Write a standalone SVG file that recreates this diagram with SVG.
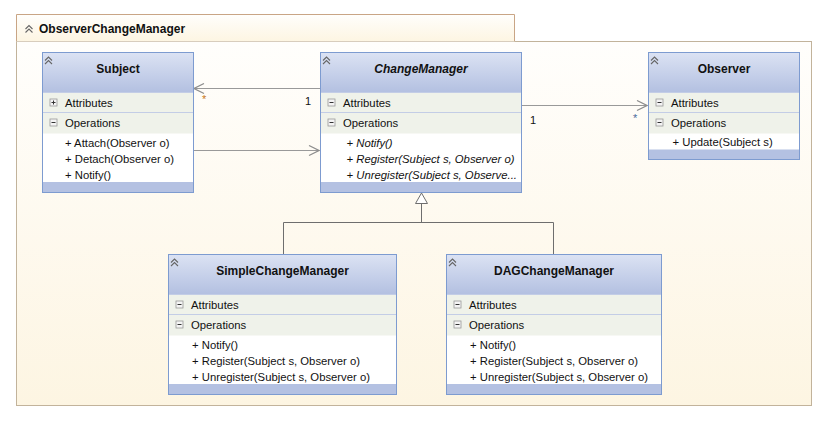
<svg xmlns="http://www.w3.org/2000/svg" width="834" height="430" viewBox="0 0 834 430">
<defs>
<linearGradient id="pkgBg" x1="0" y1="0" x2="0" y2="1">
<stop offset="0" stop-color="#fffefc"/>
<stop offset="1" stop-color="#fdf5e2"/>
</linearGradient>
<linearGradient id="hdr" x1="0" y1="0" x2="0" y2="1">
<stop offset="0" stop-color="#dbe2f3"/>
<stop offset="1" stop-color="#b3c0e1"/>
</linearGradient>
<marker id="open" viewBox="0 0 12 12" refX="11" refY="6" markerWidth="12" markerHeight="12" markerUnits="userSpaceOnUse" orient="auto">
<path d="M1,1 L11,6 L1,11" fill="none" stroke="#8c8c8c" stroke-width="1.2"/>
</marker>
<g id="chev">
<path d="M-3.5,2 L0,-1.5 L3.5,2 M-3.5,5.5 L0,2 L3.5,5.5" fill="none" stroke="#666" stroke-width="1.1"/>
</g>
<g id="minus">
<rect x="-3.5" y="-3.5" width="7" height="7" fill="#f4f4f4" stroke="#9a9a9a" stroke-width="0.8"/>
<path d="M-2,0 H2" stroke="#333" stroke-width="1"/>
</g>
<g id="plus">
<rect x="-3.5" y="-3.5" width="7" height="7" fill="#f4f4f4" stroke="#9a9a9a" stroke-width="0.8"/>
<path d="M-2,0 H2 M0,-2 V2" stroke="#333" stroke-width="1"/>
</g>
</defs>
<style>
text{font-family:"Liberation Sans",Arial,sans-serif;fill:#111111}
.name{font-size:12px;font-weight:bold;text-anchor:middle}
.it{font-style:italic}
.t{font-size:11.3px}
.box{fill:#ffffff;stroke:#7d9bd0;stroke-width:1}
.row{fill:#eff2ea}
.sep{stroke:#c3cde6;stroke-width:1}
.band{fill:#b4c1e2}
.conn{fill:none;stroke:#999999;stroke-width:1.2}
.gen{fill:none;stroke:#6e6e6e;stroke-width:1}
.mult{font-size:11px}
</style>

<g id="package">
<path d="M16.5,41.5 V14.5 H514.5 V41.5" fill="url(#pkgBg)" stroke="#c9a585" stroke-width="1"/>
<rect x="16.5" y="41.5" width="795" height="364" fill="url(#pkgBg)" stroke="#c2b39b" stroke-width="1"/>
<line x1="16.5" y1="41.5" x2="514.5" y2="41.5" stroke="#d8cdbd" stroke-width="1"/>
<use href="#chev" x="29" y="27"/>
<text x="39" y="33" style="font-size:12px;font-weight:bold">ObserverChangeManager</text>
</g>

<g id="connectors">
<line class="conn" x1="320" y1="88.5" x2="194" y2="88.5" marker-end="url(#open)"/>
<line class="conn" x1="194" y1="150.5" x2="319" y2="150.5" marker-end="url(#open)"/>
<line class="conn" x1="522" y1="105.5" x2="647" y2="105.5" marker-end="url(#open)"/>
<path class="gen" d="M421.5,203 V222.5 M283.5,254 V222.5 H553.5 V254"/>
<path d="M421.5,193 L415.5,203.5 L427.5,203.5 Z" fill="#ffffff" stroke="#6e6e6e" stroke-width="1"/>
<text class="mult" x="202" y="103" style="fill:#c87820">*</text>
<text class="mult" x="305" y="105">1</text>
<text class="mult" x="530" y="124">1</text>
<text class="mult" x="633" y="122" style="fill:#4a6a9a">*</text>
</g>

<g id="Subject" transform="translate(42.5,52.5)">
<rect class="box" x="0" y="0" width="151" height="140"/>
<rect x="0.5" y="0.5" width="150" height="39.5" fill="url(#hdr)"/>
<rect class="row" x="0.5" y="40" width="150" height="41"/>
<line class="sep" x1="0.5" y1="40" x2="150.5" y2="40"/>
<line class="sep" x1="0.5" y1="60" x2="150.5" y2="60"/>
<rect class="band" x="0.5" y="129.5" width="150" height="10"/>
<rect x="0" y="0" width="151" height="140" fill="none" stroke="#7d9bd0"/>
<use href="#chev" x="6" y="6"/>
<text class="name" x="75.5" y="20">Subject</text>
<use href="#plus" x="11" y="50"/>
<text class="t" x="22.5" y="54">Attributes</text>
<use href="#minus" x="11" y="70"/>
<text class="t" x="22.5" y="74">Operations</text>
<text class="t" x="22.5" y="94">+ Attach(Observer o)</text>
<text class="t" x="22.5" y="110">+ Detach(Observer o)</text>
<text class="t" x="22.5" y="126">+ Notify()</text>
</g>

<g id="ChangeManager" transform="translate(320.5,52.5)">
<rect class="box" x="0" y="0" width="201" height="140"/>
<rect x="0.5" y="0.5" width="200" height="39.5" fill="url(#hdr)"/>
<rect class="row" x="0.5" y="40" width="200" height="41"/>
<line class="sep" x1="0.5" y1="40" x2="200.5" y2="40"/>
<line class="sep" x1="0.5" y1="60" x2="200.5" y2="60"/>
<rect class="band" x="0.5" y="129.5" width="200" height="10"/>
<rect x="0" y="0" width="201" height="140" fill="none" stroke="#7d9bd0"/>
<use href="#chev" x="6" y="6"/>
<text class="name it" x="100.5" y="20">ChangeManager</text>
<use href="#minus" x="11" y="50"/>
<text class="t" x="22.5" y="54">Attributes</text>
<use href="#minus" x="11" y="70"/>
<text class="t" x="22.5" y="74">Operations</text>
<text class="t it" x="26" y="94">+ Notify()</text>
<text class="t it" x="26" y="110">+ Register(Subject s, Observer o)</text>
<text class="t it" x="26" y="126">+ Unregister(Subject s, Observe...</text>
</g>

<g id="Observer" transform="translate(648.5,52.5)">
<rect class="box" x="0" y="0" width="151" height="107"/>
<rect x="0.5" y="0.5" width="150" height="39.5" fill="url(#hdr)"/>
<rect class="row" x="0.5" y="40" width="150" height="41"/>
<line class="sep" x1="0.5" y1="40" x2="150.5" y2="40"/>
<line class="sep" x1="0.5" y1="60" x2="150.5" y2="60"/>
<rect class="band" x="0.5" y="97" width="150" height="9.5"/>
<rect x="0" y="0" width="151" height="107" fill="none" stroke="#7d9bd0"/>
<use href="#chev" x="6" y="6"/>
<text class="name" x="75.5" y="20">Observer</text>
<use href="#minus" x="11" y="50"/>
<text class="t" x="22.5" y="54">Attributes</text>
<use href="#minus" x="11" y="70"/>
<text class="t" x="22.5" y="74">Operations</text>
<text class="t" x="24" y="93">+ Update(Subject s)</text>
</g>

<g id="SimpleChangeManager" transform="translate(168.5,254.5)">
<rect class="box" x="0" y="0" width="228" height="140"/>
<rect x="0.5" y="0.5" width="227" height="39.5" fill="url(#hdr)"/>
<rect class="row" x="0.5" y="40" width="227" height="41"/>
<line class="sep" x1="0.5" y1="40" x2="227.5" y2="40"/>
<line class="sep" x1="0.5" y1="60" x2="227.5" y2="60"/>
<rect class="band" x="0.5" y="129.5" width="227" height="10"/>
<rect x="0" y="0" width="228" height="140" fill="none" stroke="#7d9bd0"/>
<use href="#chev" x="6" y="6"/>
<text class="name" x="114" y="20">SimpleChangeManager</text>
<use href="#minus" x="11" y="50"/>
<text class="t" x="22.5" y="54">Attributes</text>
<use href="#minus" x="11" y="70"/>
<text class="t" x="22.5" y="74">Operations</text>
<text class="t" x="23.5" y="94">+ Notify()</text>
<text class="t" x="23.5" y="110">+ Register(Subject s, Observer o)</text>
<text class="t" x="23.5" y="126">+ Unregister(Subject s, Observer o)</text>
</g>

<g id="DAGChangeManager" transform="translate(446.5,254.5)">
<rect class="box" x="0" y="0" width="215" height="140"/>
<rect x="0.5" y="0.5" width="214" height="39.5" fill="url(#hdr)"/>
<rect class="row" x="0.5" y="40" width="214" height="41"/>
<line class="sep" x1="0.5" y1="40" x2="214.5" y2="40"/>
<line class="sep" x1="0.5" y1="60" x2="214.5" y2="60"/>
<rect class="band" x="0.5" y="129.5" width="214" height="10"/>
<rect x="0" y="0" width="215" height="140" fill="none" stroke="#7d9bd0"/>
<use href="#chev" x="6" y="6"/>
<text class="name" x="107.5" y="20">DAGChangeManager</text>
<use href="#minus" x="11" y="50"/>
<text class="t" x="22.5" y="54">Attributes</text>
<use href="#minus" x="11" y="70"/>
<text class="t" x="22.5" y="74">Operations</text>
<text class="t" x="23.5" y="94">+ Notify()</text>
<text class="t" x="23.5" y="110">+ Register(Subject s, Observer o)</text>
<text class="t" x="23.5" y="126">+ Unregister(Subject s, Observer o)</text>
</g>
</svg>
